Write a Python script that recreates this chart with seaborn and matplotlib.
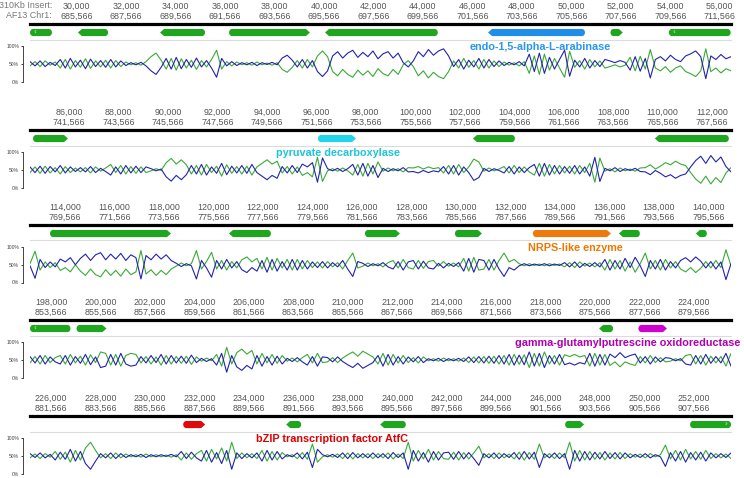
import matplotlib
matplotlib.use("Agg")
import matplotlib.pyplot as plt
import matplotlib.transforms as mtransforms
import numpy as np
import pandas as pd
import seaborn as sns

W_PX, H_PX = 744, 478
AX_LEFT, AX_RIGHT = 30, 731
BP_PER_ROW = 28340
BP_PX = BP_PER_ROW / (AX_RIGHT - AX_LEFT)
CHR1_OFFSET = 655566

# one row = one window of the 310Kb insert
row_start = [28113, 84424, 112578, 197151, 225151]
row_first_tick = [30000, 86000, 114000, 198000, 226000]
row_line_y = [24, 130, 225, 320, 416]

# genes: row, start, end, strand, colour, truncated at the window edge
gene_row = [0, 0, 0, 0, 0, 0, 0, 0,
            1, 1, 1, 1,
            2, 2, 2, 2, 2, 2, 2,
            3, 3, 3, 3,
            4, 4, 4, 4, 4]
gene_start = [28113, 30050, 33370, 36160, 40040, 46630, 51580, 53940,
              84545, 96065, 102330, 109686,
              113386, 120622, 126119, 129757, 132909, 136385, 139497,
              197151, 199031, 220158, 221747,
              231344, 235508, 239307, 246785, 251835]
gene_end = [29000, 31270, 35190, 39430, 44600, 50550, 52080, 56440,
            85960, 97600, 104028, 112677,
            118277, 122319, 127533, 130849, 136063, 137234, 139942,
            198788, 200243, 220724, 222903,
            232234, 236114, 240345, 247553, 253494]
gene_strand = ['-', '-', '-', '+', '-', '-', '+', '-',
               '+', '+', '-', '-',
               '+', '-', '+', '+', '+', '-', '-',
               '-', '+', '-', '+',
               '+', '-', '-', '+', '+']
gene_color = ['g', 'g', 'g', 'g', 'g', 'blue', 'g', 'g',
              'g', 'cyan', 'g', 'g',
              'g', 'g', 'g', 'g', 'orange', 'g', 'g',
              'g', 'g', 'g', 'magenta',
              'red', 'g', 'g', 'g', 'g']
gene_cut = [True, False, False, False, False, False, False, True,
            False, False, False, False,
            False, False, False, False, False, False, False,
            True, False, False, False,
            False, False, False, False, True]

# named genes
label_row = [0, 1, 2, 3, 4]
label_text = ['endo-1,5-alpha-L-arabinase', 'pyruvate decarboxylase',
              'NRPS-like enzyme', 'gamma-glutamylputrescine oxidoreductase',
              'bZIP transcription factor AtfC']
label_x = [48727, 96873, 134607, 225890, 237358]
label_ha = ['center', 'center', 'center', 'right', 'center']
label_color = ['blue', 'cyan', 'orange', 'magenta', 'red']

# GC content (%) along each window, AT = 100 - GC
gc_row1 = [56, 44, 58, 42, 54, 45,
           62, 38, 65, 41, 60, 36, 63, 42, 59, 40, 62, 41, 58, 45,
           53, 47, 54, 44, 30, 20, 40,
           65, 35, 68, 36, 62, 40, 66, 41, 59, 38, 12, 65,
           44, 56, 45, 53, 47, 54, 45, 53, 48, 54, 47,
           66, 74, 60, 41, 62, 38, 59, 28, 14, 30,
           72, 84, 66, 80, 88, 68, 82, 70, 86, 64, 78, 84, 66, 80,
           53, 41, 58, 84, 70, 90, 74, 86, 92, 72,
           42, 62, 35, 60, 41, 65, 38, 62, 42, 58,
           45, 54, 47, 56, 44, 77, 28, 80, 23, 68, 35, 62, 88, 15,
           60, 41, 65, 38, 59, 42, 62, 58, 53, 59, 54,
           32, 70, 29, 65, 10, 62,
           70, 58, 74, 62, 56, 72, 78, 86, 70, 8,
           72, 62, 76, 64, 70]
gc_row2 = [58, 42, 60, 40, 59, 44, 62, 41, 58, 45,
           56, 44, 59, 42, 54, 45,
           35, 58, 38, 62, 41, 60, 42, 58, 53, 47, 52,
           30, 18, 34, 22, 36,
           62, 38, 65, 35, 58, 40, 68, 36, 60, 41,
           62, 40, 65, 42, 32, 22, 34, 26, 59, 41, 62, 42,
           66, 58, 70, 15, 83,
           53, 47, 54, 45, 53, 65, 35, 68, 32, 62, 28,
           54, 45, 53, 47, 56, 44, 45, 41, 48, 42, 47, 44,
           59, 38, 62, 35, 58, 42, 20, 28,
           54, 45, 53, 48, 41, 59, 38, 58, 42, 56,
           65, 32, 68, 35, 62, 38, 59, 40, 62, 38, 58, 32, 85, 17,
           54, 47, 56, 45, 53, 48, 54, 45,
           44, 36, 48, 40, 30, 36, 26, 34, 38, 58,
           76, 88, 68, 90, 72, 86, 59, 44]
gc_row3 = [47, 12, 65, 42, 58, 44, 66, 58, 70, 50,
           68, 80, 62, 78, 84, 64, 80, 66, 82, 62, 78, 70, 10,
           76, 64, 80, 66, 78, 62, 54, 45, 53, 47, 10, 62, 41, 15,
           62, 38, 65, 41, 59, 36, 28, 42, 32,
           62, 29, 65, 32, 59, 35, 65, 35, 62, 38,
           58, 42, 59, 41, 56, 44, 62, 38, 17, 59,
           54, 45, 53, 47, 56, 44, 38, 59, 35, 58,
           62, 38, 60, 41, 38, 54, 41, 54, 45, 56,
           32, 68, 29, 65, 62, 35, 65, 38, 17, 42, 35, 47,
           53, 47, 52, 48, 53, 47, 52, 48,
           56, 44, 58, 42, 54, 45, 56, 44,
           65, 35, 62, 38, 68, 42, 71, 47, 17,
           62, 38, 65, 35, 59, 41, 62, 70, 58, 72, 60,
           41, 59, 38, 58, 8, 53]
gc_row4 = [59, 41, 62, 38, 58, 44, 38, 62, 35, 59, 40, 65, 36, 58,
           28, 32, 65, 35, 68, 38, 32, 35, 59, 41, 62, 42,
           65, 38, 62, 41, 60, 40, 63, 42, 54, 45, 53, 35, 68, 15, 62,
           30, 20, 34, 24, 62, 32, 59, 35, 60, 38,
           54, 45, 56, 44, 35, 59, 32, 58, 56, 44, 58, 45,
           36, 28, 40, 26, 34, 42, 62, 32, 65, 35, 59, 38,
           58, 44, 59, 42, 53, 47, 54, 45, 53, 47, 54, 45,
           58, 42, 59, 41, 60, 40, 62, 38, 65, 35, 63, 36,
           72, 32, 68, 28, 62, 38, 65, 36, 41, 35, 42, 38,
           68, 32, 65, 35, 66, 56, 70, 56, 62, 66,
           41, 59, 38, 58, 44, 56, 54, 47, 53, 38, 35,
           62, 38, 65, 40, 59, 41, 68, 32]
gc_row5 = [56, 45, 58, 44, 54, 38, 60, 40, 68, 35,
           62, 28, 12, 35, 56, 44, 58, 42, 56, 45,
           53, 47, 54, 45, 53, 47, 53, 48, 54, 47,
           62, 42, 60, 44, 35, 65, 32, 59, 28, 65, 12,
           58, 42, 56, 44, 58, 35, 65, 38, 62, 41,
           53, 47, 58, 41, 60, 17, 68,
           53, 47, 54, 45, 58, 42, 59, 44, 56, 44,
           58, 44, 56, 42, 59, 45, 58, 12, 65,
           35, 59, 32, 62, 38, 58, 60, 40, 62, 41, 59, 42, 23,
           56, 44, 58, 42, 56, 45, 59, 40, 62, 41, 60, 17,
           56, 44, 58, 42, 56, 12, 65, 35, 62, 38,
           60, 41, 62, 42, 59, 41, 58, 44,
           54, 45, 56, 44, 53, 47, 20,
           59, 35, 62, 32, 59, 38, 60, 35, 58, 44, 56, 45, 58]
gc_rows = [gc_row1, gc_row2, gc_row3, gc_row4, gc_row5]

palette = {'g': '#1fa61f', 'blue': '#1e8ee8', 'cyan': '#22d3ea',
           'orange': '#ee7a0c', 'magenta': '#d000d0', 'red': '#e00a0a'}
text_palette = {'blue': '#2a96ee', 'cyan': '#1cc6d8', 'orange': '#f07800',
                'magenta': '#b000b0', 'red': '#e00000'}
line_palette = {'GC': '#2222b0', 'AT': '#3aaa35'}

sns.set_style("white")
plt.rcParams['font.family'] = ['Liberation Sans', 'DejaVu Sans']


def px_axes(fig, x, y_top, w, h):
    return fig.add_axes([x / W_PX, 1 - (y_top + h) / H_PX, w / W_PX, h / H_PX])


def gene_shape(x0, x1, strand, cut):
    yc, hh = 0.45, 0.23
    r = 3 * BP_PX
    h = 4 * BP_PX
    t = np.linspace(0, np.pi, 10)
    left_arc = (x0 + r - r * np.sin(t), yc + hh * np.cos(t))          # top -> bottom
    right_arc = (x1 - r + r * np.sin(t), yc - hh * np.cos(t))         # bottom -> top
    if cut:
        xs = np.concatenate([left_arc[0], right_arc[0]])
        ys = np.concatenate([left_arc[1], right_arc[1]])
    elif strand == '+':
        xs = np.concatenate([left_arc[0], [x1 - h, x1, x1 - h]])
        ys = np.concatenate([left_arc[1], [yc - hh, yc, yc + hh]])
    else:
        xs = np.concatenate([[x0 + h, x0, x0 + h], right_arc[0]])
        ys = np.concatenate([[yc + hh, yc, yc - hh], right_arc[1]])
    return xs, ys


fig = plt.figure(figsize=(W_PX / 100, H_PX / 100), dpi=100)

for row in range(5):
    x_lo = row_start[row]
    x_hi = x_lo + BP_PER_ROW
    ly = row_line_y[row]

    # gene track with coordinate header
    tr = px_axes(fig, AX_LEFT, ly, AX_RIGHT - AX_LEFT, 15.5)
    tr.set_xlim(x_lo, x_hi)
    tr.set_ylim(0, 1)
    for s in ['left', 'right']:
        tr.spines[s].set_visible(False)
    tr.spines['top'].set_linewidth(2.3)
    tr.spines['top'].set_color('black')
    tr.spines['bottom'].set_linewidth(0.8)
    tr.spines['bottom'].set_color('#dcdcdc')
    ticks = [row_first_tick[row] + 2000 * k for k in range(14)]
    tr.xaxis.tick_top()
    tr.set_xticks(ticks)
    tr.set_xticklabels([f'{t:,}\n{t + CHR1_OFFSET:,}' for t in ticks])
    tr.tick_params(axis='x', length=0, pad=2.6, labelsize=6.4, labelcolor='#555555')
    for lab in tr.get_xticklabels():
        lab.set_linespacing(1.05)
    tr.set_yticks([])

    for i in range(len(gene_row)):
        if gene_row[i] != row:
            continue
        xs, ys = gene_shape(gene_start[i], gene_end[i], gene_strand[i], gene_cut[i])
        tr.fill(xs, ys, color=palette[gene_color[i]], lw=0, clip_on=False)
        if gene_cut[i]:
            mark = '‹' if gene_strand[i] == '-' else '›'
            mx = gene_start[i] + 5 * BP_PX if gene_strand[i] == '-' else gene_end[i] - 5 * BP_PX
            tr.text(mx, 0.45, mark, color='#8ee08e', fontsize=6, fontweight='bold',
                    ha='center', va='center')

    # GC / AT content
    ax = px_axes(fig, AX_LEFT, ly + 22, AX_RIGHT - AX_LEFT, 35.5)
    gc = gc_rows[row]
    pos = np.linspace(x_lo, x_hi, len(gc))
    df = pd.DataFrame({'pos': np.concatenate([pos, pos]),
                       'pct': np.concatenate([100 - np.array(gc), np.array(gc)]),
                       'series': ['AT'] * len(gc) + ['GC'] * len(gc)})
    sns.lineplot(data=df, x='pos', y='pct', hue='series', hue_order=['AT', 'GC'],
                 palette=line_palette, estimator=None, lw=0.8, legend=False, ax=ax)
    ax.set_xlim(x_lo, x_hi)
    ax.set_ylim(0, 100)
    ax.set(xlabel='', ylabel='')
    ax.set_xticks([])
    for s in ['top', 'right', 'bottom']:
        ax.spines[s].set_visible(False)
    ax.spines['left'].set_position(('outward', 5))
    ax.spines['left'].set_bounds(0, 100)
    ax.spines['left'].set_linewidth(0.7)
    ax.spines['left'].set_color('#444444')
    ax.set_yticks([0, 50, 100])
    ax.set_yticklabels(['0%', '50%', '100%'])
    ax.tick_params(axis='y', left=True, length=1.6, width=0.7, color='#444444',
                   pad=1.2, labelsize=3.6, labelcolor='#444444')

    trans = mtransforms.blended_transform_factory(ax.transData, ax.transAxes)
    for j in range(len(label_row)):
        if label_row[j] == row:
            ax.text(label_x[j], 0.985, label_text[j], transform=trans,
                    ha=label_ha[j], va='center', fontsize=7.8, fontweight='bold',
                    color=text_palette[label_color[j]], clip_on=False)

fig.text(52 / W_PX, 1 - 5.5 / H_PX, '310Kb Insert:', ha='right', va='center',
         fontsize=6.4, color='#777777')
fig.text(52 / W_PX, 1 - 15 / H_PX, 'AF13 Chr1:', ha='right', va='center',
         fontsize=6.4, color='#777777')

fig.savefig('out.png', dpi=100)
